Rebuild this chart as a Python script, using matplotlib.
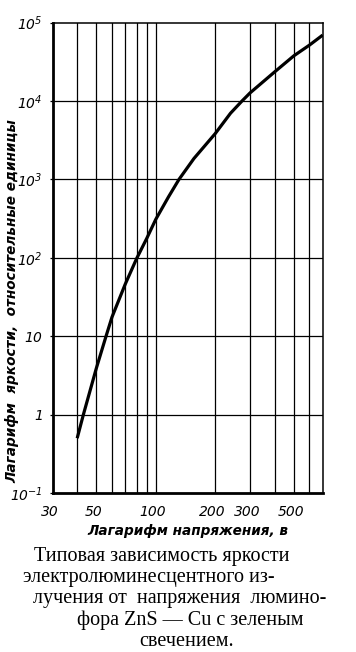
import matplotlib
matplotlib.use('Agg')
import matplotlib.pyplot as plt
import matplotlib.transforms as mtransforms
from matplotlib.ticker import FixedLocator, NullFormatter

# italic digits in the exponent labels
plt.rcParams['mathtext.fontset'] = 'custom'
plt.rcParams['mathtext.rm'] = 'DejaVu Sans:italic'
plt.rcParams['mathtext.it'] = 'DejaVu Sans:italic'
plt.rcParams['mathtext.default'] = 'rm'

# curve: voltage (V) vs relative brightness
voltage = [40, 43, 50, 56, 60, 70, 80, 90, 100, 116, 131, 156,
           200, 239, 273, 300, 400, 500, 600, 700]
brightness = [0.5, 1, 3.9, 10, 17.5, 46, 98, 177, 310, 600, 1000, 1850,
              3850, 7000, 10000, 12700, 23600, 37800, 51800, 69500]

x_grid = [40, 50, 60, 70, 80, 90, 100, 200, 300, 400, 500, 600]
x_ticks = [30, 50, 100, 200, 300, 500]
x_ticklabels = ['30', '50', '100', '200', '300', '500']
y_ticks = [0.1, 1, 10, 1e2, 1e3, 1e4, 1e5]
y_ticklabels = ['$10^{-1}$', '$1$', '$10$', '$10^{2}$', '$10^{3}$', '$10^{4}$', '$10^{5}$']

# caption lines with the x of their centre in pixels
caption = [
    ('Типовая зависимость яркости', 162),
    ('электролюминесцентного из-', 149),
    ('лучения от  напряжения  люмино-', 180),
    ('фора ZnS — Cu с зеленым', 190),
    ('свечением.', 187),
]

W, H = 356, 652
fig = plt.figure(figsize=(W / 100, H / 100), dpi=100)
ax = fig.add_axes([52.5 / W, 1 - 493 / H, (322.7 - 52.5) / W, (493 - 22.7) / H])

ax.plot(voltage, brightness, color='black', lw=2.3, solid_capstyle='butt')
ax.set_xscale('log')
ax.set_yscale('log')
ax.set_xlim(30, 700)
ax.set_ylim(0.1, 1e5)

# vertical grid on every minor division, horizontal on decades
for v in x_grid:
    ax.axvline(v, color='black', lw=0.9)
for v in y_ticks[1:-1]:
    ax.axhline(v, color='black', lw=0.9)

ax.xaxis.set_major_locator(FixedLocator(x_ticks))
ax.xaxis.set_minor_locator(FixedLocator([]))
ax.set_xticklabels(x_ticklabels)
ax.xaxis.set_minor_formatter(NullFormatter())
ax.yaxis.set_major_locator(FixedLocator(y_ticks))
ax.yaxis.set_minor_locator(FixedLocator([]))
ax.set_yticklabels(y_ticklabels)

ax.tick_params(axis='x', length=0, pad=9, labelsize=10)
ax.tick_params(axis='y', length=2, width=0.9, pad=5, labelsize=10)
shift = mtransforms.ScaledTranslation(-3 / 100, 0, fig.dpi_scale_trans)
for lbl in ax.get_xticklabels():
    lbl.set_style('italic')
    lbl.set_transform(lbl.get_transform() + shift)
for lbl in ax.get_yticklabels():
    lbl.set_style('italic')

for side in ['left', 'bottom']:
    ax.spines[side].set_linewidth(2.0)
for side in ['top', 'right']:
    ax.spines[side].set_linewidth(1.1)

ax.set_xlabel('Лагарифм напряжения, в', fontsize=9.8, style='italic',
              weight='bold', labelpad=3)
fig.text(12 / W, 1 - 301 / H, 'Лагарифм  яркости,  относительные единицы',
         rotation=90, ha='center', va='center', fontsize=9.8,
         style='italic', weight='bold')

for i, (line, xc) in enumerate(caption):
    fig.text(xc / W, 1 - (556 + i * 21.5) / H, line, ha='center', va='center',
             fontsize=14.5, family='Liberation Serif')

fig.savefig('out.png', dpi=100)
